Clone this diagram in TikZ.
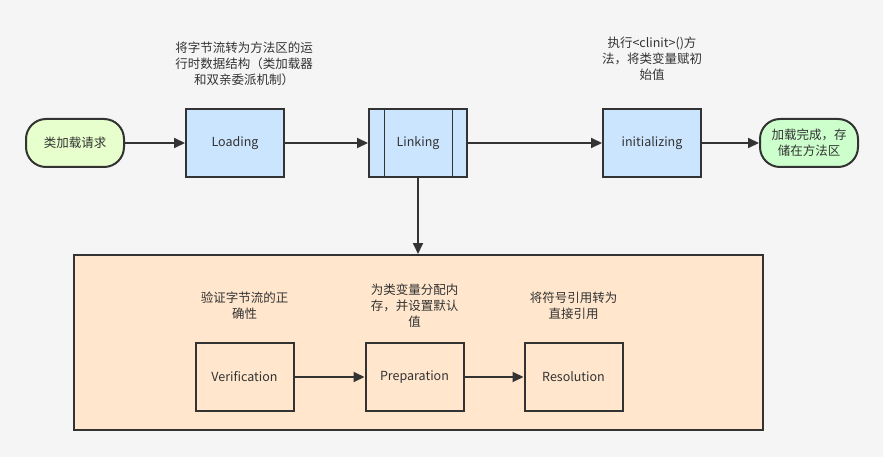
\documentclass[tikz,border=0pt]{standalone}
\usepackage{fontspec}
\setmainfont{Noto Sans CJK SC}
\usetikzlibrary{arrows.meta,positioning}

\definecolor{bgfill}{HTML}{F5F5F5}
\definecolor{linegray}{HTML}{333333}
\definecolor{textgray}{HTML}{333333}
\definecolor{procblue}{HTML}{CCE5FF}
\definecolor{startgreen}{HTML}{E6FFCC}
\definecolor{endgreen}{HTML}{CCFFCC}
\definecolor{stagepeach}{HTML}{FFE6CC}

\begin{document}
\begin{tikzpicture}[
  font=\fontsize{12.5}{16}\selectfont,
  text=textgray,
  proc/.style={draw=linegray, fill=procblue, rectangle, minimum width=98pt, minimum height=68pt, line width=2pt, align=center},
  term/.style={draw=linegray, rectangle, rounded corners=20pt, minimum width=98pt, minimum height=48pt, line width=2pt, align=center},
  stage/.style={draw=linegray, fill=stagepeach, rectangle, minimum width=98pt, minimum height=68pt, line width=2pt, align=center},
  note/.style={align=center, inner sep=0pt},
  arrow/.style={-{Triangle[length=11pt,width=10pt]}, line width=2pt, draw=linegray},
]
  \fill[bgfill] (0pt,0pt) rectangle (883pt,-457pt);
  \useasboundingbox (0pt,0pt) rectangle (883pt,-457pt);

  \node[term, fill=startgreen] (request) at (75pt,-143pt) {类加载请求};
  \node[proc, right=60pt of request] (loading) {Loading};
  \node[proc, right=83pt of loading] (linking) {Linking};
  \node[proc, right=134pt of linking] (init) {initializing};
  \node[term, fill=endgreen, right=57pt of init] (done) {加载完成，存\\储在方法区};

  % side bars of the linking box
  \draw[linegray, line width=0.9pt] ([xshift=16pt]linking.north west) -- ([xshift=16pt]linking.south west);
  \draw[linegray, line width=0.9pt] ([xshift=-16pt]linking.north east) -- ([xshift=-16pt]linking.south east);

  \draw[arrow] (request) -- (loading);
  \draw[arrow] (loading) -- (linking);
  \draw[arrow] (linking) -- (init);
  \draw[arrow] (init) -- (done);

  \node[note, above=22pt of loading, xshift=9pt] (loadnote) {将字节流转为方法区的运\\行时数据结构（类加载器\\和双亲委派机制）};
  \node[note, above=27pt of init] (initnote) {执行<clinit>()方\\法，将类变量赋初\\始值};

  \node[draw=linegray, fill=stagepeach, line width=2pt, minimum width=689pt, minimum height=175pt, below=76pt of linking] (phase) {};
  \draw[arrow] (linking) -- (phase);

  \node[stage, above right=19pt and 122pt of phase.south west] (verify) {Verification};
  \node[stage, right=70pt of verify] (prepare) {Preparation};
  \node[stage, right=59pt of prepare] (resolve) {Resolution};
  \draw[arrow] (verify) -- (prepare);
  \draw[arrow] (prepare) -- (resolve);

  \node[note, above=22pt of verify] (verifynote) {验证字节流的正\\确性};
  \node[note, above=14pt of prepare] (preparenote) {为类变量分配内\\存，并设置默认\\值};
  \node[note, above=22pt of resolve] (resolvenote) {将符号引用转为\\直接引用};
\end{tikzpicture}
\end{document}
